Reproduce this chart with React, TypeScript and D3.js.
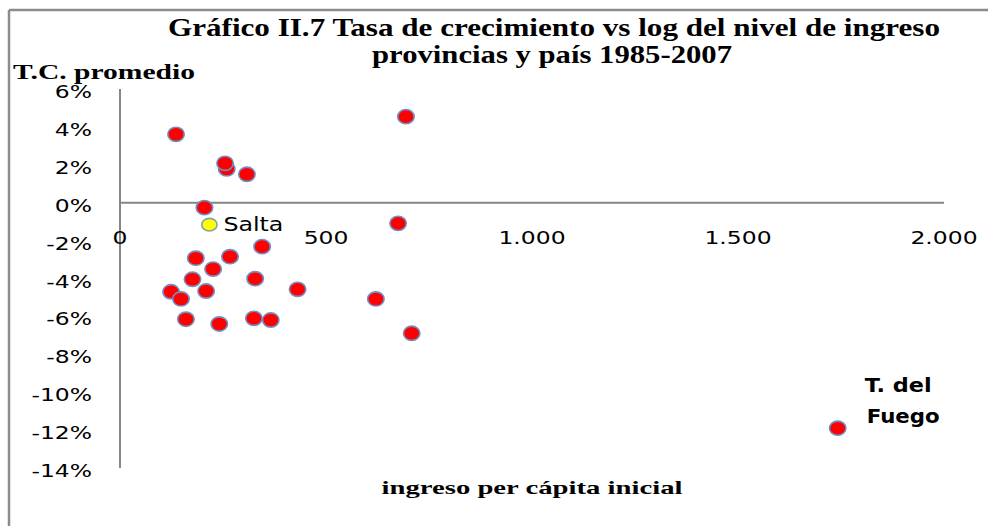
import React from "react";
import * as d3 from "d3";

const W = 988;
const H = 526;

const xTicks = [0, 500, 1000, 1500, 2000];
const xTickLabels = ["0", "500", "1.000", "1.500", "2.000"];
const yTicks = [0.06, 0.04, 0.02, 0, -0.02, -0.04, -0.06, -0.08, -0.1, -0.12, -0.14];
const yTickLabels = ["6%", "4%", "2%", "0%", "-2%", "-4%", "-6%", "-8%", "-10%", "-12%", "-14%"];

// provinces + country (red)
const incomeX = [136, 259, 255, 308, 694, 205, 675, 345, 184, 267, 226, 176, 328, 124, 148, 209, 431, 621, 160, 241, 325, 366, 708, 1742];
const growthY = [0.0361, 0.0178, 0.0208, 0.015, 0.0454, -0.0026, -0.0109, -0.0232, -0.0293, -0.0285, -0.035, -0.0404, -0.0401, -0.047, -0.0508, -0.0466, -0.0457, -0.0508, -0.0615, -0.064, -0.061, -0.0619, -0.0689, -0.119];

// Salta (yellow)
const saltaX = [217];
const saltaY = [-0.0116];

const titleLines = ["Gráfico II.7 Tasa de crecimiento vs log del nivel de ingreso", "provincias y país 1985-2007"];
const yAxisTitle = "T.C. promedio";
const xAxisTitle = "ingreso per cápita inicial";

export default function App() {
  const x = d3.scaleLinear().domain([0, 2000]).range([120, 944]);
  const y = d3.scaleLinear().domain([-0.14, 0.06]).range([468, 89]);
  const axisColor = "#868686";
  const sans = "'DejaVu Sans', Verdana, sans-serif";
  const serif = "'Liberation Serif', 'Times New Roman', serif";
  const sx = 1.38;

  const fuegoIdx = incomeX.length - 1;

  return (
    <div style={{ position: "absolute", left: 0, top: 0, width: W, height: H, background: "#fff" }}>
      <svg width={W} height={H} viewBox={`0 0 ${W} ${H}`} style={{ display: "block" }}>
        <rect x={0} y={0} width={W} height={H} fill="#fff" />
        {/* frame */}
        <line x1={9} y1={10} x2={W} y2={10} stroke="#8c8c8c" strokeWidth={2.5} />
        <line x1={9} y1={10} x2={9} y2={H} stroke="#8c8c8c" strokeWidth={2.5} />

        {/* titles */}
        <text x={554} y={36} textAnchor="middle" fontFamily={serif} fontWeight="bold" fontSize={25}
          textLength={772} lengthAdjust="spacingAndGlyphs">{titleLines[0]}</text>
        <text x={552} y={63} textAnchor="middle" fontFamily={serif} fontWeight="bold" fontSize={25}
          textLength={360} lengthAdjust="spacingAndGlyphs">{titleLines[1]}</text>
        <text x={13} y={79} fontFamily={serif} fontWeight="bold" fontSize={21}
          textLength={182} lengthAdjust="spacingAndGlyphs">{yAxisTitle}</text>
        <text x={532} y={494} textAnchor="middle" fontFamily={serif} fontWeight="bold" fontSize={19}
          textLength={301} lengthAdjust="spacingAndGlyphs">{xAxisTitle}</text>

        {/* axes */}
        <line x1={x(0)} y1={y(0.06)} x2={x(0)} y2={y(-0.14)} stroke={axisColor} strokeWidth={2} />
        <line x1={x(0)} y1={y(0)} x2={x(2000)} y2={y(0)} stroke={axisColor} strokeWidth={2} />

        {/* y tick labels */}
        {yTicks.map((t, i) => (
          <text key={"y" + i} transform={`translate(92,${y(t) + 9}) scale(${sx},1)`} textAnchor="end"
            fontFamily={sans} fontSize={17} fill="#000">{yTickLabels[i]}</text>
        ))}
        {/* x tick labels */}
        {xTicks.map((t, i) => (
          <text key={"x" + i} transform={`translate(${x(t)},244) scale(${sx},1)`} textAnchor="middle"
            fontFamily={sans} fontSize={17} fill="#000">{xTickLabels[i]}</text>
        ))}

        {/* points */}
        {incomeX.map((v, i) => (
          <ellipse key={"p" + i} cx={x(v)} cy={y(growthY[i])} rx={8.2} ry={7.1}
            fill="#ff0000" stroke="#6f8fc6" strokeWidth={1.6} />
        ))}
        {saltaX.map((v, i) => (
          <ellipse key={"s" + i} cx={x(v)} cy={y(saltaY[i])} rx={7.6} ry={6.3}
            fill="#ffff00" stroke="#8aa0a8" strokeWidth={1.6} />
        ))}

        {/* labels */}
        <text x={x(saltaX[0]) + 14} y={y(saltaY[0]) + 6} fontFamily={sans} fontSize={19}
          textLength={60} lengthAdjust="spacingAndGlyphs" fill="#000">Salta</text>
        <text x={x(incomeX[fuegoIdx]) + 27} y={y(growthY[fuegoIdx]) - 36} fontFamily={sans} fontWeight="bold" fontSize={19}
          textLength={67} lengthAdjust="spacingAndGlyphs" fill="#000">T. del</text>
        <text x={x(incomeX[fuegoIdx]) + 29} y={y(growthY[fuegoIdx]) - 5} fontFamily={sans} fontWeight="bold" fontSize={19}
          textLength={73} lengthAdjust="spacingAndGlyphs" fill="#000">Fuego</text>
      </svg>
    </div>
  );
}
